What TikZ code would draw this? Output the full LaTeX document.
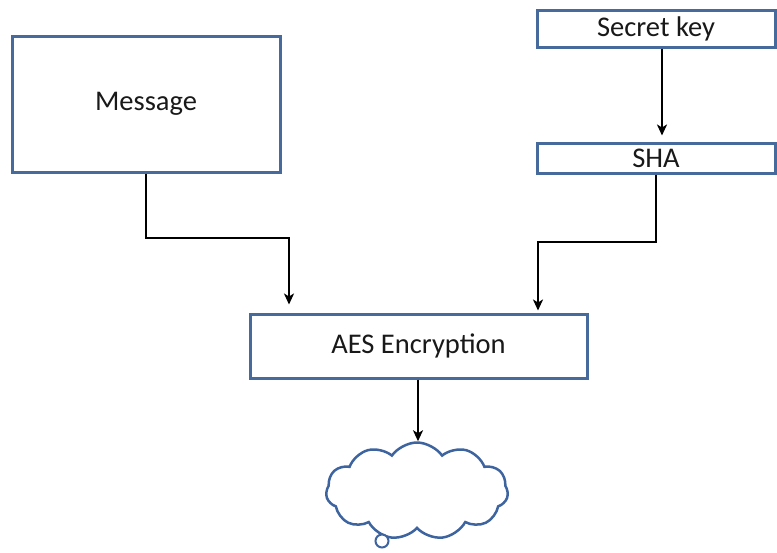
\documentclass[tikz,border=0pt]{standalone}
\usepackage{fontspec}
\setmainfont{Carlito}
\usetikzlibrary{arrows.meta,shapes.symbols}
\definecolor{boxblue}{RGB}{70,106,156}
\definecolor{cloudblue}{RGB}{62,100,160}
\tikzset{
  blockbox/.style={draw=boxblue,line width=3pt,fill=white,inner sep=0pt,
    font=\fontsize{28.5}{33}\selectfont,text=black!90},
  conn/.style={draw=black,line width=2.2pt,-{Stealth[length=11pt,width=10pt,inset=3pt]}},
}
\begin{document}
\begin{tikzpicture}[x=1pt,y=-1pt]
\useasboundingbox (0,0) rectangle (777,552);
\node[blockbox,minimum width=268pt,minimum height=136pt] (msg) at (146,104) {Message};
\node[blockbox,minimum width=238pt,minimum height=37pt] (key) at (656,28.5) {\raisebox{-1.5pt}{Secret key}};
\node[blockbox,minimum width=238pt,minimum height=30pt] (sha) at (656,158) {SHA};
\node[blockbox,minimum width=337pt,minimum height=64pt] (aes) at (418.5,346) {AES Encryption};
\node[cloud,draw=cloudblue,line width=2.5pt,fill=white,cloud puffs=11,cloud puff arc=110,
  aspect=1.85,minimum width=182pt,minimum height=97pt,inner sep=0pt] (cld) at (417,491) {};
\node[circle,draw=cloudblue,line width=2pt,fill=white,minimum size=13pt,inner sep=0pt] (bub) at (382,541) {};
\coordinate (k1) at (662,47);
\coordinate (m1) at (289,238);
\coordinate (s1) at (538,242);
\coordinate (a1) at (418,378);
\draw[conn,shorten >=6pt] (key.south -| k1) -- (sha.north -| k1);
\draw[conn,shorten >=8pt] (msg.south) |- (m1) -- (m1 |- aes.north);
\draw[conn,shorten >=2pt] (sha.south) |- (s1) -- (s1 |- aes.north);
\draw[conn] (aes.south -| a1) -- (cld.north -| a1);
\end{tikzpicture}
\end{document}
